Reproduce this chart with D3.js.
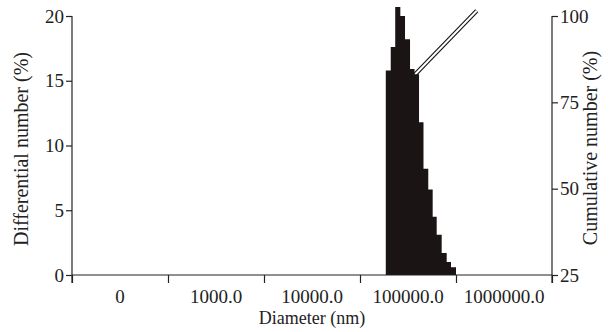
<!DOCTYPE html>
<meta charset="utf-8">
<script src="https://d3js.org/d3.v7.min.js"></script>
<style>
body { margin: 0; background: white; }
text { font-family: "Liberation Serif", "Times New Roman", serif; fill: #222; }
.axis path, .axis line { stroke: #222; stroke-width: 1.2px; }
</style>
<body>
<svg id="chart" width="613" height="332"></svg>
<script>
// bin edges (nm), one more than the bars
var binEdges = [58700, 66100, 73600, 83200, 93100, 105000, 117000, 130300, 145000,
                162600, 180700, 199000, 224300, 253000, 280500, 316200];
// differential number (%) per bin
var differential = [15.8, 17.6, 20.7, 20.0, 18.2, 15.9, 15.5, 11.8, 8.2, 6.6, 4.5, 3.1, 1.7, 1.0, 0.6];
// cumulative number (%) — visible part of the curve
var cumDiameter = [117000, 520000];
var cumValue = [82.9, 101.5];

var xLabels = ["0", "1000.0", "10000.0", "100000.0", "1000000.0"];
var xLabelAt = [1e2, 1e3, 1e4, 1e5, 1e6];
var xTickAt = [Math.pow(10, 1.5), Math.pow(10, 2.5), Math.pow(10, 3.5), Math.pow(10, 4.5), Math.pow(10, 5.5), Math.pow(10, 6.5)];
var leftTicks = [0, 5, 10, 15, 20];
var rightTicks = [25, 50, 75, 100];

var svg = d3.select("#chart");
var margin = { left: 72, right: 552, top: 16, bottom: 275 };

var x = d3.scaleLog().domain([Math.pow(10, 1.5), Math.pow(10, 6.5)]).range([margin.left, margin.right]);
var y = d3.scaleLinear().domain([0, 20]).range([margin.bottom, margin.top]);
var y2 = d3.scaleLinear().domain([25, 100]).range([margin.bottom, margin.top]);

// cumulative line: black outer stroke with white core -> double line look
var line = d3.line()
    .x(function(d, i) { return x(cumDiameter[i]); })
    .y(function(d) { return y2(d); });

svg.append("path").datum(cumValue)
    .attr("d", line).attr("fill", "none")
    .attr("stroke", "#111").attr("stroke-width", 4.2);
svg.append("path").datum(cumValue)
    .attr("d", line).attr("fill", "none")
    .attr("stroke", "white").attr("stroke-width", 2);

// histogram drawn as one stepped area so no seams show between bins
var steps = binEdges.map(function(e, i) {
    return { d: e, v: differential[Math.min(i, differential.length - 1)] };
});
var area = d3.area()
    .curve(d3.curveStepAfter)
    .x(function(p) { return x(p.d); })
    .y0(margin.bottom)
    .y1(function(p) { return y(p.v); });

svg.append("path").datum(steps)
    .attr("d", area)
    .attr("fill", "#1a1414");

// x axis, ticks at decade boundaries, labels between them
var xAxis = svg.append("g").attr("class", "axis")
    .attr("transform", "translate(0," + margin.bottom + ")")
    .call(d3.axisBottom(x).tickValues(xTickAt).tickSize(8).tickSizeOuter(0).tickFormat(""));
xAxis.select(".domain").attr("d", "M" + margin.left + ",0H" + margin.right);

svg.append("g").selectAll("text")
    .data(xLabels)
    .enter().append("text")
    .attr("x", function(d, i) { return x(xLabelAt[i]); })
    .attr("y", 303)
    .attr("text-anchor", "middle")
    .attr("font-size", 19)
    .text(function(d) { return d; });

var yAxis = svg.append("g").attr("class", "axis")
    .attr("transform", "translate(" + margin.left + ",0)")
    .call(d3.axisLeft(y).tickValues(leftTicks).tickSize(6).tickSizeOuter(0).tickPadding(2));
yAxis.select(".domain").attr("d", "M0," + margin.top + "V" + (margin.bottom + 8));
yAxis.selectAll("text").attr("font-size", 19).attr("fill", "#222").attr("font-family", "Liberation Serif");

var y2Axis = svg.append("g").attr("class", "axis")
    .attr("transform", "translate(" + margin.right + ",0)")
    .call(d3.axisRight(y2).tickValues(rightTicks).tickSize(6).tickSizeOuter(0).tickPadding(2));
y2Axis.select(".domain").attr("d", "M0," + margin.top + "V" + (margin.bottom + 8));
y2Axis.selectAll("text").attr("font-size", 19).attr("fill", "#222").attr("font-family", "Liberation Serif");

svg.append("text")
    .attr("x", 312).attr("y", 324)
    .attr("text-anchor", "middle").attr("font-size", 18)
    .text("Diameter (nm)");

svg.append("text")
    .attr("transform", "translate(28,149) rotate(-90)")
    .attr("text-anchor", "middle").attr("font-size", 20)
    .text("Differential number  (%)");

svg.append("text")
    .attr("transform", "translate(597,148) rotate(-90)")
    .attr("text-anchor", "middle").attr("font-size", 20)
    .text("Cumulative number (%)");
</script>
</body>
